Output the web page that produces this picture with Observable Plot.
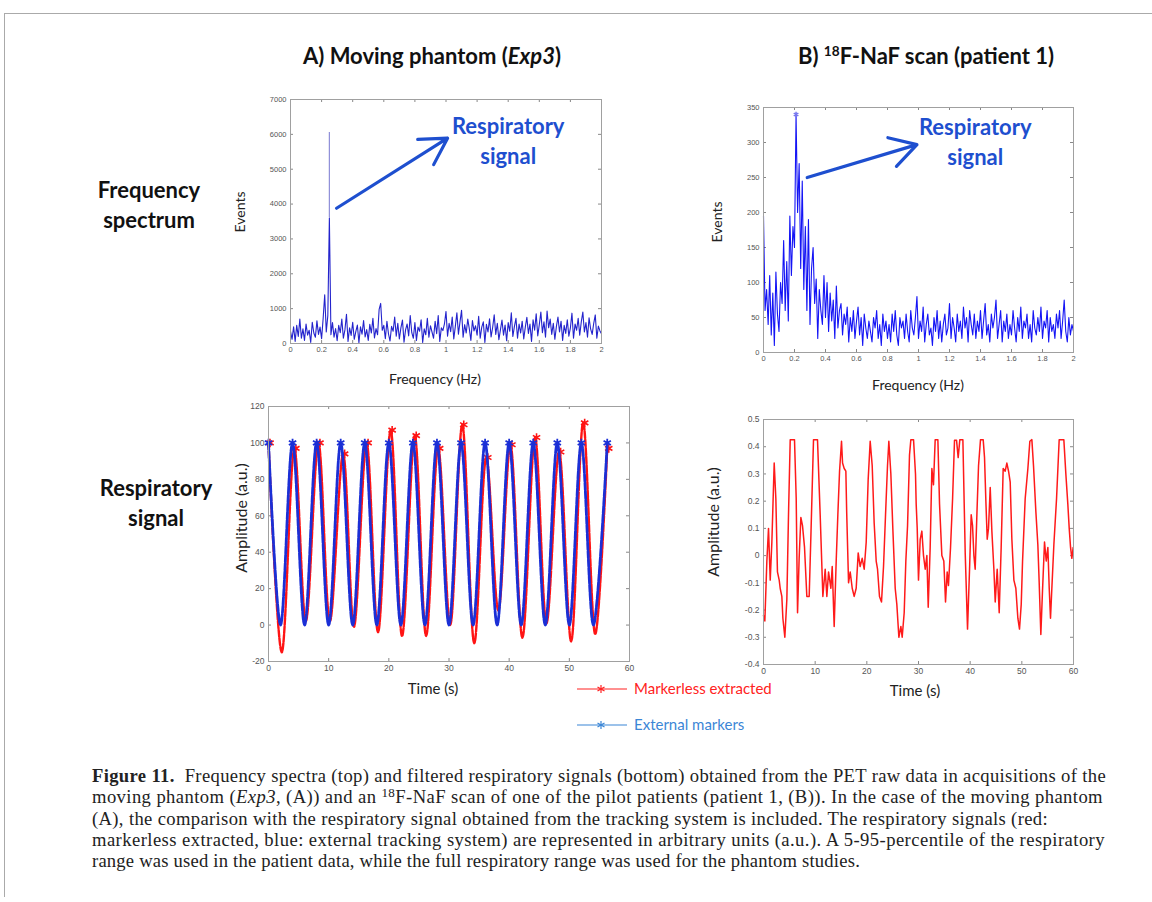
<!DOCTYPE html>
<html><head><meta charset="utf-8">
<script src="https://cdn.jsdelivr.net/npm/d3@7"></script>
<script src="https://cdn.jsdelivr.net/npm/@observablehq/plot@0.6"></script>
<style>
html,body{margin:0;padding:0;background:#fff;}
body{width:1152px;height:902px;overflow:hidden;position:relative;font-family:Lato,"Open Sans",sans-serif;}
.abs{position:absolute;}
.c{position:absolute;transform:translate(-50%,-50%);white-space:nowrap;}
.r{position:absolute;transform:translate(-50%,-50%) rotate(-90deg);white-space:nowrap;}
.axl{font-family:Lato,sans-serif;font-size:14px;color:#222;}
.ttl{font-family:Lato,sans-serif;font-weight:700;font-size:22px;color:#111;}
.row{font-family:Lato,sans-serif;font-weight:700;font-size:22px;color:#111;text-align:center;line-height:30px;}
.cap{position:absolute;left:92px;font-family:"Liberation Serif","DejaVu Serif",serif;font-size:18.6px;color:#222;white-space:nowrap;line-height:21px;}
.leg{position:absolute;font-family:Lato,sans-serif;font-size:15px;white-space:nowrap;}
</style></head><body>
<div class="abs" style="left:5px;top:13px;width:1147px;height:0;border-top:1.5px solid #aaa"></div>
<div class="abs" style="left:4px;top:13px;width:0;height:884px;border-left:1.5px solid #aaa"></div>

<div id="titleA" class="c ttl" style="left:432px;top:55px"></div>
<div id="titleB" class="c ttl" style="left:926px;top:55px"></div>
<div id="row1" class="c row" style="left:149px;top:205px"></div>
<div id="row2" class="c row" style="left:156px;top:503px"></div>

<div id="pTL" class="abs" style="left:230px;top:90px"></div>
<div id="pTR" class="abs" style="left:695px;top:95px"></div>
<div id="pBL" class="abs" style="left:225px;top:395px"></div>
<div id="pBR" class="abs" style="left:695px;top:405px"></div>

<div id="lab" ></div>
<div id="legend"></div>
<div id="caption"></div>

<script>
// ---------------- DATA ----------------
const specStep = 0.01; // Hz between spectrum bins
// Moving phantom spectrum (Events), bins 0.00 .. 2.00 Hz
const phantomSpectrum = [
 350,120,480,60,520,200,700,150,420,90,
 560,240,380,30,610,300,180,650,260,470,
 140,720,1400,330,800,3600,250,600,180,430,
 80,520,310,700,150,390,840,60,450,230,
 610,120,340,530,20,480,270,660,190,400,
 90,550,300,720,160,430,250,980,1150,380,
 520,140,640,280,70,490,350,760,210,580,
 130,450,670,40,390,560,220,800,310,150,
 600,90,470,350,680,30,420,250,720,180,
 510,330,150,640,280,800,60,450,370,560,
 920,210,580,340,760,130,490,880,270,620,
 950,180,540,300,700,420,90,660,360,510,
 240,780,150,470,620,30,550,330,710,190,
 460,820,260,580,110,390,670,240,530,80,
 600,350,880,200,490,720,150,560,300,640,
 130,470,750,290,560,60,680,380,850,220,
 540,900,310,620,180,930,450,700,260,580,
 120,490,760,330,640,90,520,290,680,210,
 450,870,150,560,380,720,240,620,900,330,
 600,180,740,420,260,580,820,150,500,360,
 280];
const phantomPeak = [{f:0.25, low:3600, high:6050}];
// Patient spectrum (Events), bins 0.00 .. 2.00 Hz
const patientSpectrum = [
 195,60,90,40,110,25,85,10,115,55,
 30,100,70,160,60,130,45,195,110,180,
 150,340,200,270,120,245,90,180,60,190,
 40,120,150,70,105,20,90,60,40,110,
 50,100,30,85,45,75,20,95,35,60,
 70,25,55,40,65,15,50,30,60,20,
 45,65,25,50,10,55,35,20,45,30,
 15,50,35,60,20,40,10,55,30,45,
 20,40,15,55,30,60,25,10,50,35,
 45,20,55,30,15,60,35,25,50,80,
 20,45,30,65,15,40,55,25,35,10,
 50,30,60,20,45,15,40,55,25,35,
 70,20,50,35,15,55,30,45,20,65,
 35,50,15,60,40,25,55,20,45,30,
 60,20,45,70,25,40,15,55,35,50,
 75,20,40,60,15,45,30,55,20,40,
 25,60,35,15,50,30,65,20,45,35,
 55,20,40,15,60,35,25,50,30,65,
 20,45,35,60,15,50,30,40,20,55,
 35,60,20,45,75,30,15,50,25,40,
 30];
// Phantom respiratory signal: extrema [time s, amplitude a.u.]
const externalMarkers = [
 [0,100],[2,0],[4,100],[6,0],[8,100],[10,0],[12,100],[14,0],[16,100],[18,0],
 [20,100],[22,0],[24,100],[26,0],[28,100],[30,0],[32,100],[34,0],[36,100],[38,0],
 [40,100],[42,0],[44,100],[46,0],[48,100],[50,0],[52,100],[54,0],[56.3,100]];
const markerlessExtracted = [
 [0,100],[2.2,-15],[4.3,97],[6.2,2],[8.3,100],[10.2,2],[12.4,94],[14.2,-1],[16.3,100],[18.2,-4],
 [20.3,107],[22.2,-6],[24.3,104],[26.2,-6],[28.2,97],[30.2,0],[32.2,110],[34.2,-10],[36.2,92],[38.2,8],
 [40.2,99],[42.2,-7],[44.3,103],[46.2,1],[48.3,95],[50.3,-9],[52.3,111],[54.3,-5],[56.3,97]];
// Patient respiratory signal [time s, amplitude a.u.]
const patientSignal = [
 [0,-0.22],[0.26,-0.24],[0.65,-0.02],[0.97,0.10],[1.3,-0.09],[1.62,0.05],[2.07,0.34],[2.39,0.21],[2.7,-0.06],[3.04,-0.09],
 [3.23,-0.12],[3.55,-0.15],[3.75,-0.23],[4.13,-0.30],[4.52,-0.16],[4.84,0.15],[5.17,0.426],[6.0,0.426],[6.33,0.21],[6.59,-0.21],
 [6.9,-0.01],[7.23,0.14],[7.55,0.11],[7.94,0.03],[8.39,-0.15],[8.84,-0.15],[9.17,0.07],[9.68,0.426],[10.45,0.426],[10.97,0.15],
 [11.49,-0.15],[11.94,-0.05],[12.26,-0.15],[12.59,-0.06],[13.04,-0.12],[13.3,-0.04],[13.68,-0.26],[14.07,-0.02],[14.39,0.15],[14.72,0.31],
 [15.1,0.42],[15.3,0.34],[15.62,0.32],[15.94,0.31],[16.1,0.16],[16.46,-0.10],[16.78,-0.06],[17.17,-0.12],[17.55,-0.15],[17.94,-0.12],
 [18.33,0.01],[18.7,-0.04],[19.1,-0.01],[19.49,-0.05],[19.88,0.05],[20.26,0.28],[20.65,0.42],[21.04,0.33],[21.42,0.12],[21.81,-0.02],
 [22.07,-0.05],[22.45,-0.15],[22.84,-0.17],[23.23,-0.04],[23.62,0.15],[24.0,0.33],[24.26,0.42],[24.65,0.30],[25.03,0.10],[25.49,-0.12],
 [25.81,-0.18],[26.2,-0.30],[26.59,-0.26],[26.84,-0.30],[27.23,-0.21],[27.55,-0.02],[27.88,0.11],[28.26,0.37],[28.52,0.426],[29.04,0.426],
 [29.42,0.30],[29.55,0.19],[29.75,0.10],[30.0,-0.09],[30.33,0.06],[30.65,0.09],[30.97,0.0],[31.3,-0.05],[31.62,0.0],[31.88,-0.19],
 [32.26,0.03],[32.59,0.32],[32.9,0.26],[33.23,0.426],[33.75,0.426],[34.07,0.19],[34.52,0.0],[34.9,-0.02],[35.23,-0.17],[35.55,-0.06],
 [35.8,-0.11],[36.2,0.03],[36.6,0.21],[36.97,0.424],[37.36,0.424],[37.68,0.36],[38.0,0.426],[38.59,0.426],[39.04,0.01],[39.49,-0.27],
 [39.88,-0.05],[40.2,0.15],[40.46,0.11],[40.72,0.0],[40.97,-0.05],[41.3,0.15],[41.62,0.33],[42.0,0.426],[42.52,0.426],[42.78,0.36],
 [43.04,0.20],[43.3,0.06],[43.55,0.10],[43.88,0.25],[44.2,0.09],[44.59,-0.05],[44.85,-0.17],[45.23,-0.05],[45.62,-0.21],[46.0,0.03],
 [46.39,0.32],[46.78,0.31],[47.1,0.34],[47.43,0.31],[47.75,0.27],[48.07,0.06],[48.46,-0.09],[48.84,-0.12],[49.23,-0.23],[49.55,-0.27],
 [49.88,-0.18],[50.14,-0.02],[50.65,0.21],[51.17,0.32],[51.55,0.42],[51.94,0.426],[52.26,0.33],[52.72,0.16],[53.1,0.04],[53.36,-0.10],
 [53.68,-0.29],[54.0,-0.13],[54.39,0.05],[54.72,-0.02],[55.04,0.03],[55.3,-0.12],[55.55,-0.23],[55.81,-0.12],[56.2,0.04],[56.72,0.21],
 [57.23,0.426],[58.13,0.426],[58.52,0.30],[58.9,0.19],[59.17,0.10],[59.43,0.03],[59.68,-0.01],[59.94,0.03]];
// Tick labels
const freqTicks = [0,0.2,0.4,0.6,0.8,1,1.2,1.4,1.6,1.8,2];
const phantomEventTicks = [0,1000,2000,3000,4000,5000,6000,7000];
const patientEventTicks = [0,50,100,150,200,250,300,350];
const timeTicks = [0,10,20,30,40,50,60];
const phantomAmpTicks = [-20,0,20,40,60,80,100,120];
const patientAmpTicks = [-0.4,-0.3,-0.2,-0.1,0,0.1,0.2,0.3,0.4,0.5];
// Annotations (data coordinates)
const arrowA = [{x1:0.296, y1:3880, x2:1.01, y2:5890}];
const noteA = [{x:1.40, y:5850, text:"Respiratory\nsignal"}];
const arrowB = [{x1:0.282, y1:250, x2:0.99, y2:297}];
const noteB = [{x:1.366, y:303, text:"Respiratory\nsignal"}];
// Texts
const titles = {A:'A) Moving phantom (<i>Exp3</i>)', B:'B) <sup style="font-size:0.62em;vertical-align:0.55em;line-height:0">18</sup>F-NaF scan (patient 1)'};
const rowLabels = ["Frequency<br>spectrum","Respiratory<br>signal"];
const legendItems = [
 {label:"Markerless extracted", color:"#ff2222"},
 {label:"External markers", color:"#3b86d6"}];
const captionLines = [
 '<b>Figure 11.</b>&nbsp; Frequency spectra (top) and filtered respiratory signals (bottom) obtained from the PET raw data in acquisitions of the',
 'moving phantom (<i>Exp3</i>, (A)) and an <sup style="font-size:0.7em;vertical-align:0.5em;line-height:0">18</sup>F-NaF scan of one of the pilot patients (patient 1, (B)). In the case of the moving phantom',
 '(A), the comparison with the respiratory signal obtained from the tracking system is included. The respiratory signals (red:',
 'markerless extracted, blue: external tracking system) are represented in arbitrary units (a.u.). A 5-95-percentile of the respiratory',
 'range was used in the patient data, while the full respiratory range was used for the phantom studies.'];
const captionWidths = [1014, 1011, 956, 1013, 768];

// ---------------- DRAW ----------------
function panel({width,height,ml,mr,mt,mb,xd,yd,xt,yt,xf,yf,fs,marks}){
  const pw = width-ml-mr, ph = height-mt-mb;
  return Plot.plot({
    width, height, marginLeft:ml, marginRight:mr, marginTop:mt, marginBottom:mb,
    x:{domain:xd}, y:{domain:yd},
    style:{fontFamily:"'Liberation Sans',Arial,sans-serif", fontSize:fs+"px", color:"#555", background:"transparent", overflow:"visible"},
    marks:[
      Plot.ruleX(xt,{stroke:"#888", insetTop:ph-3}),
      Plot.ruleX(xt,{stroke:"#888", insetBottom:ph-3}),
      Plot.ruleY(yt,{stroke:"#888", insetRight:pw-3}),
      Plot.ruleY(yt,{stroke:"#888", insetLeft:pw-3}),
      ...marks,
      Plot.frame({stroke:"#a0a0a0"}),
      Plot.axisX(xt,{tickSize:0, tickPadding:3, tickFormat:xf, label:null}),
      Plot.axisY(yt,{tickSize:0, tickPadding:4, tickFormat:yf, label:null})
    ]
  });
}
const fmt = d => String(Math.round(d*10)/10);
const fi = d => String(d);
const noteStyle = {fill:"#1e4fcf", fontSize:22, fontWeight:"bold", fontFamily:"Lato,sans-serif", lineHeight:1.36, lineAnchor:"middle", textAnchor:"middle"};

document.getElementById("pTL").append(panel({
  width:390,height:300,ml:60,mr:19,mt:9,mb:47, xd:[0,2], yd:[0,7000], xt:freqTicks, yt:phantomEventTicks, xf:fmt, yf:fi, fs:7.5,
  marks:[
    Plot.ruleX(phantomPeak,{x:"f", y1:"low", y2:"high", stroke:"#8e8ed8", strokeWidth:1.2}),
    Plot.line(phantomSpectrum,{x:(d,i)=>i*specStep, y:d=>d, stroke:"#2323cc", strokeWidth:1.1}),
    Plot.arrow(arrowA,{x1:"x1",y1:"y1",x2:"x2",y2:"y2", stroke:"#1e4fcf", strokeWidth:3.2, headLength:14}),
    Plot.text(noteA,{x:"x",y:"y",text:"text",...noteStyle})
  ]}));

document.getElementById("pTR").append(panel({
  width:400,height:300,ml:68,mr:22,mt:12,mb:43, xd:[0,2], yd:[0,350], xt:freqTicks, yt:patientEventTicks, xf:fmt, yf:fi, fs:7.5,
  marks:[
    Plot.line(patientSpectrum,{x:(d,i)=>i*specStep, y:d=>d, stroke:"#1414f5", strokeWidth:1.1}),
    Plot.dot(patientSpectrum.map((d,i)=>[i*specStep,d]).filter(d=>d[1]===d3.max(patientSpectrum)),{x:d=>d[0],y:d=>d[1], symbol:"asterisk", r:2.5, stroke:"#7777ee"}),
    Plot.arrow(arrowB,{x1:"x1",y1:"y1",x2:"x2",y2:"y2", stroke:"#1e4fcf", strokeWidth:3.2, headLength:14}),
    Plot.text(noteB,{x:"x",y:"y",text:"text",...noteStyle})
  ]}));

document.getElementById("pBL").append(panel({
  width:420,height:310,ml:43,mr:16,mt:11,mb:44, xd:[0,60], yd:[-20,120], xt:timeTicks, yt:phantomAmpTicks, xf:fi, yf:fi, fs:8.5,
  marks:[
    Plot.line(markerlessExtracted,{x:d=>d[0], y:d=>d[1], curve:"catmull-rom", stroke:"#ff1414", strokeWidth:2.4, strokeDasharray:"7 1.5"}),
    Plot.dot(markerlessExtracted.filter(d=>d[1]>50),{x:d=>d[0]+0.25, y:d=>d[1], symbol:"asterisk", r:4, stroke:"#ff1414", strokeWidth:1.6}),
    Plot.line(externalMarkers,{x:d=>d[0], y:d=>d[1], curve:"catmull-rom", stroke:"#1b2fd6", strokeWidth:2.8, strokeDasharray:"7 1.5"}),
    Plot.dot(externalMarkers.filter(d=>d[1]>50),{x:d=>d[0], y:d=>d[1], symbol:"asterisk", r:4, stroke:"#1b2fd6", strokeWidth:1.8})
  ]}));

document.getElementById("pBR").append(panel({
  width:400,height:300,ml:68,mr:22,mt:14,mb:41, xd:[0,60], yd:[-0.4,0.5], xt:timeTicks, yt:patientAmpTicks, xf:fi, yf:fmt, fs:8.5,
  marks:[
    Plot.line(patientSignal,{x:d=>d[0], y:d=>d[1], stroke:"#ff1a1a", strokeWidth:1.5})
  ]}));

// titles & labels
document.getElementById("titleA").innerHTML = titles.A;
document.getElementById("titleB").innerHTML = titles.B;
document.getElementById("row1").innerHTML = rowLabels[0];
document.getElementById("row2").innerHTML = rowLabels[1];
const axisLabels = [
 {t:"Events", x:239, y:212, rot:true, fs:14},
 {t:"Frequency (Hz)", x:435, y:378, rot:false, fs:14},
 {t:"Events", x:716, y:222, rot:true, fs:14},
 {t:"Frequency (Hz)", x:918, y:384, rot:false, fs:14},
 {t:"Amplitude (a.u.)", x:240, y:518, rot:true, fs:16},
 {t:"Time (s)", x:433, y:688, rot:false, fs:15},
 {t:"Amplitude (a.u.)", x:712, y:522, rot:true, fs:16},
 {t:"Time (s)", x:915, y:690, rot:false, fs:15}];
const lab = document.getElementById("lab");
for (const a of axisLabels){
  const d = document.createElement("div");
  d.className = (a.rot ? "r" : "c") + " axl";
  d.style.left = a.x+"px"; d.style.top = a.y+"px"; d.style.fontSize = a.fs+"px";
  d.textContent = a.t; lab.append(d);
}
// legend
const leg = document.getElementById("legend");
legendItems.forEach((it,i)=>{
  const y = 689 + i*36;
  const s = document.createElementNS("http://www.w3.org/2000/svg","svg");
  s.setAttribute("width",54); s.setAttribute("height",12);
  s.style.position="absolute"; s.style.left="575px"; s.style.top=(y-6)+"px";
  s.innerHTML = `<line x1="2" x2="52" y1="6" y2="6" stroke="${it.color}" stroke-width="1.2"/>`+
    `<g stroke="${it.color}" stroke-width="1.2"><line x1="26" x2="26" y1="2" y2="10"/><line x1="22.5" x2="29.5" y1="4" y2="8"/><line x1="22.5" x2="29.5" y1="8" y2="4"/></g>`;
  leg.append(s);
  const t = document.createElement("div");
  t.className="leg"; t.style.left="634px"; t.style.top=(y-10)+"px"; t.style.color=it.color;
  t.textContent = it.label; leg.append(t);
});
// caption
const cap = document.getElementById("caption");
captionLines.forEach((html,i)=>{
  const d = document.createElement("div");
  d.className="cap"; d.style.top=(765 + i*21.3)+"px";
  d.innerHTML = html; cap.append(d);
  const target = captionWidths[i];
  if (target){
    const w = d.getBoundingClientRect().width;
    const n = d.textContent.length;
    d.style.letterSpacing = ((target-w)/n)+"px";
  }
});
</script>
</body></html>
